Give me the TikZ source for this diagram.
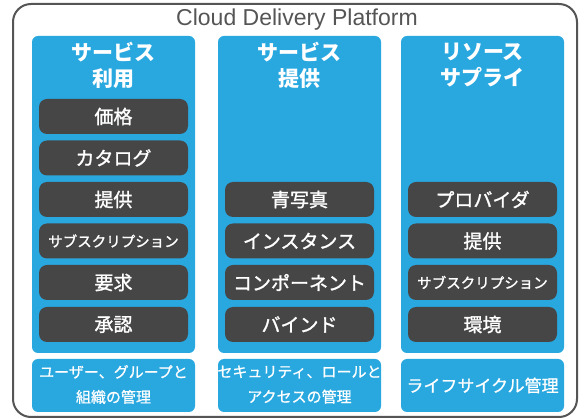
\documentclass[tikz,border=0pt]{standalone}
\usepackage{fontspec}
\setmainfont{Noto Sans CJK JP}
\newfontfamily\jpmid[FakeBold=1.4]{Noto Sans CJK JP}
\newfontfamily\jplight[FakeBold=0.8]{Noto Sans CJK JP}
\newfontfamily\latinfont{Liberation Sans}
\usetikzlibrary{positioning}
\definecolor{cdpblue}{HTML}{29A8E0}
\definecolor{cdpdark}{HTML}{464646}
\definecolor{cdpframe}{HTML}{555555}
\tikzset{
  colbox/.style={
    rectangle, rounded corners=6pt, inner sep=0pt,
    minimum width=163pt, minimum height=#1,
    fill=cdpblue
  },
  itembox/.style={
    rectangle, rounded corners=8pt, inner sep=0pt,
    minimum width=149pt, minimum height=35pt,
    fill=cdpdark, text=white, font=\jpmid\fontsize{#1}{#1}\selectfont
  },
  itembox/.default=19,
  headtext/.style={
    text=white, align=center, inner sep=0pt,
    font=\bfseries\fontsize{21}{26}\selectfont
  },
  foottext/.style={
    text=white, align=center, inner sep=0pt,
    font=\jplight\fontsize{#1}{25}\selectfont
  },
  foottext/.default=15,
}

\begin{document}
\begin{tikzpicture}[x=1pt,y=-1pt]
  \useasboundingbox (0,0) rectangle (587,419);
  % outer frame and title
  \draw[cdpframe, line width=2pt, rounded corners=18pt, fill=white]
    (13,4) rectangle (577,417);
  \node[text=cdpframe, font=\latinfont\fontsize{23}{23}\selectfont]
    (title) at (297,20) {Cloud Delivery Platform};

  % three columns
  \node[colbox=317pt](col1) at (113.5,194.5) {};
  \node[colbox=317pt](col2) at (299.5,194.5) {};
  \node[colbox=317pt](col3) at (482.5,194.5) {};
  \node[headtext](h1) at (113.5,65) {サービス\\利用};
  \node[headtext](h2) at (299.5,65) {サービス\\提供};
  \node[headtext](h3) at (482.5,65) {リソース\\サプライ};

  % service consumption
  \node[itembox](a1) at (113.5,116.5) {価格};
  \node[itembox](a2) at (113.5,158)   {カタログ};
  \node[itembox](a3) at (113.5,199.5) {提供};
  \node[itembox=14.5](a4) at (113.5,241) {サブスクリプション};
  \node[itembox](a5) at (113.5,282.5) {要求};
  \node[itembox](a6) at (113.5,324.5) {承認};

  % service delivery
  \node[itembox](b1) at (299.5,199.5) {青写真};
  \node[itembox](b2) at (299.5,241)   {インスタンス};
  \node[itembox](b3) at (299.5,282.5) {コンポーネント};
  \node[itembox](b4) at (299.5,324.5) {バインド};

  % resource supply
  \node[itembox](c1) at (482.5,199.5) {プロバイダ};
  \node[itembox](c2) at (482.5,241)   {提供};
  \node[itembox=14.5](c3) at (482.5,282.5) {サブスクリプション};
  \node[itembox](c4) at (482.5,324.5) {環境};

  % management boxes along the bottom
  \node[colbox=53pt](f1) at (113.5,385.5) {};
  \node[colbox=53pt](f2) at (299.5,385.5) {};
  \node[colbox=53pt](f3) at (482.5,385.5) {};
  \node[foottext](t1) at (113.5,384.5) {ユーザー、グループと\\組織の管理};
  \node[foottext](t2) at (299.5,384.5) {セキュリティ、ロールと\\アクセスの管理};
  \node[foottext=17](t3) at (482.5,385.5) {ライフサイクル管理};
\end{tikzpicture}
\end{document}
